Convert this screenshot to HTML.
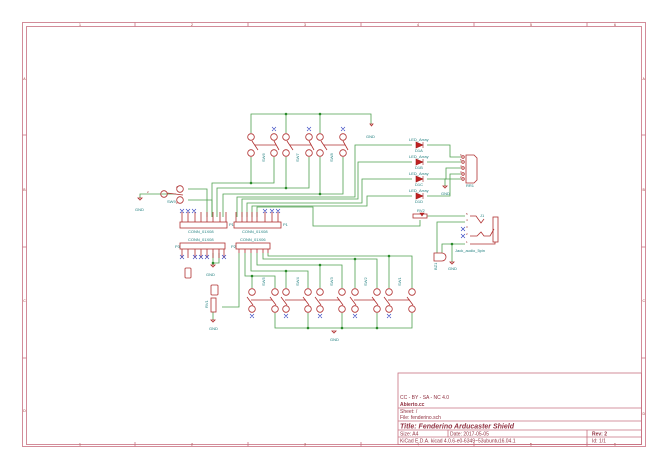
<!DOCTYPE html>
<html><head><meta charset="utf-8"><style>
html,body{margin:0;padding:0;background:#fff}
svg{display:block}
.w{stroke:#4fa04f;stroke-width:.8;fill:none}
.c{stroke:#b03030;stroke-width:.8;fill:none}
.f{stroke:#c87080;stroke-width:.8;fill:none}
.t{font-family:"Liberation Sans",sans-serif;fill:#207f7f;font-size:4px}
.r{font-family:"Liberation Sans",sans-serif;fill:#a03030;font-size:4px}
.x{stroke:#3040c0;stroke-width:.6}
.tb{font-family:"Liberation Sans",sans-serif;fill:#903040;font-size:5px}
</style></head><body>
<svg width="668" height="472" viewBox="0 0 668 472" xmlns="http://www.w3.org/2000/svg">
<!-- frame -->
<rect x="22.5" y="22.5" width="623" height="424" class="f"/>
<rect x="26.5" y="26.5" width="615" height="418" class="f"/>
<g class="f">
<line x1="135" y1="22.5" x2="135" y2="26.5"/><line x1="248" y1="22.5" x2="248" y2="26.5"/><line x1="361" y1="22.5" x2="361" y2="26.5"/><line x1="474" y1="22.5" x2="474" y2="26.5"/><line x1="587" y1="22.5" x2="587" y2="26.5"/>
<line x1="135" y1="442" x2="135" y2="446.5"/><line x1="248" y1="442" x2="248" y2="446.5"/><line x1="361" y1="442" x2="361" y2="446.5"/><line x1="474" y1="442" x2="474" y2="446.5"/><line x1="587" y1="442" x2="587" y2="446.5"/>
<line x1="22.5" y1="135" x2="26.5" y2="135"/><line x1="22.5" y1="247" x2="26.5" y2="247"/><line x1="22.5" y1="358" x2="26.5" y2="358"/>
<line x1="641.5" y1="135" x2="645.5" y2="135"/><line x1="641.5" y1="247" x2="645.5" y2="247"/><line x1="641.5" y1="358" x2="645.5" y2="358"/>
</g>
<g class="r" font-size="3.5" style="font-size:3.5px">
<text x="79" y="26">1</text><text x="191" y="26">2</text><text x="304" y="26">3</text><text x="417" y="26">4</text><text x="530" y="26">5</text><text x="614" y="26">6</text>
<text x="79" y="445.5">1</text><text x="191" y="445.5">2</text><text x="304" y="445.5">3</text><text x="417" y="445.5">4</text><text x="530" y="445.5">5</text><text x="614" y="445.5">6</text>
<text x="23.2" y="80">A</text><text x="23.2" y="191">B</text><text x="23.2" y="302">C</text><text x="23.2" y="412">D</text>
<text x="642.5" y="80">A</text><text x="642.5" y="191">B</text><text x="642.5" y="302">C</text><text x="642.5" y="415">D</text>
</g>
<!-- title block -->
<g class="f">
<rect x="398" y="373" width="243.5" height="71.5"/>
<line x1="398" y1="408" x2="641.5" y2="408"/>
<line x1="398" y1="421" x2="641.5" y2="421"/>
<line x1="398" y1="430" x2="641.5" y2="430"/>
<line x1="398" y1="437" x2="641.5" y2="437"/>
<line x1="587" y1="430" x2="587" y2="444.5"/>
<line x1="448" y1="430" x2="448" y2="437"/>
</g>
<g class="tb">
<text x="400" y="399">CC - BY - SA - NC 4.0</text>
<text x="400" y="406" font-weight="bold">Abierto.cc</text>
<text x="400" y="413">Sheet: /</text>
<text x="400" y="419">File: fenderino.sch</text>
<text x="400" y="428.5" font-weight="bold" font-style="italic" style="font-size:7px">Title: Fenderino Arducaster Shield</text>
<text x="400" y="435.5">Size: A4</text><text x="450" y="435.5">Date: 2017-05-05</text>
<text x="592" y="435.5" font-weight="bold">Rev: 2</text>
<text x="400" y="442.5">KiCad E.D.A.  kicad 4.0.6-e0-6349~53ubuntu16.04.1</text>
<text x="592" y="442.5">Id: 1/1</text>
</g>

<!-- top switches wiring -->
<g class="w">
<polyline points="251,133 251,114 371,114 371,124"/>
<line x1="286" y1="114" x2="286" y2="133"/><line x1="320" y1="114" x2="320" y2="133"/>
<polyline points="212,217 212,183 274,183 274,157"/><line x1="251" y1="157" x2="251" y2="183"/>
<polyline points="217,217 217,188 309,188 309,157"/><line x1="286" y1="157" x2="286" y2="188"/>
<polyline points="223,217 223,194 343,194 343,157"/><line x1="320" y1="157" x2="320" y2="194"/>
<!-- LEDs -->
<polyline points="412,145 355,145 355,197 237,197 237,217"/>
<polyline points="412,162 358,162 358,199 242,199 242,217"/>
<polyline points="412,179 362,179 362,203 247,203 247,217"/>
<polyline points="412,196 367,196 367,206 252,206 252,217"/>
<polyline points="427,145 450,145 450,157 461,157"/>
<polyline points="427,162 461,162"/>
<polyline points="427,179 446,179 446,168 461,168"/>
<polyline points="427,196 450,196 450,174 461,174"/>
<polyline points="461,179 445,179 445,186"/>
<!-- SW9 -->
<polyline points="207,217 207,189 188,189"/><polyline points="212,217 212,200 188,200"/>
<polyline points="176,194 152,194 140,194 140,198"/>
<!-- RV2 -->
<polyline points="257,217 257,207 313,207 313,226 420,226 420,220"/>
<line x1="427" y1="216" x2="465" y2="216"/>
<polyline points="465,222 437,222 437,253"/>
<polyline points="465,244 442,244 442,253"/><polyline points="452,244 452,262"/>
<!-- P3 -->
<polyline points="213,253 213,265"/><polyline points="219,253 219,263 213,263"/>
<!-- P2 bottom -->
<polyline points="239,253 239,307 222,307"/>
<polyline points="245,253 245,276 275,276 275,288"/><line x1="252" y1="276" x2="252" y2="288"/>
<polyline points="251,253 251,271 308,271 308,288"/><line x1="286" y1="271" x2="286" y2="288"/>
<polyline points="257,253 257,265 342,265 342,288"/><line x1="320" y1="265" x2="320" y2="288"/>
<polyline points="263,253 263,259 377,259 377,288"/><line x1="355" y1="259" x2="355" y2="288"/>
<polyline points="268,253 268,256 412,256 412,288"/><line x1="389" y1="256" x2="389" y2="288"/>
<polyline points="275,313 275,328 412,328 412,313"/>
<line x1="308" y1="313" x2="308" y2="328"/><line x1="342" y1="313" x2="342" y2="328"/><line x1="377" y1="313" x2="377" y2="328"/>
<polyline points="213,312 213,320"/>
</g>
<!-- junctions -->
<g fill="#2a8a2a">
<circle cx="286" cy="114" r="1.3"/><circle cx="320" cy="114" r="1.3"/>
<circle cx="251" cy="183" r="1.3"/><circle cx="286" cy="188" r="1.3"/><circle cx="320" cy="194" r="1.3"/>
<circle cx="452" cy="244" r="1.3"/><circle cx="213" cy="263" r="1.3"/>
<circle cx="252" cy="276" r="1.3"/><circle cx="286" cy="271" r="1.3"/><circle cx="320" cy="265" r="1.3"/><circle cx="355" cy="259" r="1.3"/><circle cx="389" cy="256" r="1.3"/>
<circle cx="308" cy="328" r="1.3"/><circle cx="342" cy="328" r="1.3"/><circle cx="377" cy="328" r="1.3"/>
</g>

<!-- switches -->
<g class="c">
<!-- top -->
<circle cx="251" cy="137" r="3.3"/><circle cx="274" cy="137" r="3.3"/><circle cx="251" cy="153" r="3.3"/><circle cx="274" cy="153" r="3.3"/>
<circle cx="286" cy="137" r="3.3"/><circle cx="309" cy="137" r="3.3"/><circle cx="286" cy="153" r="3.3"/><circle cx="309" cy="153" r="3.3"/>
<circle cx="320" cy="137" r="3.3"/><circle cx="343" cy="137" r="3.3"/><circle cx="320" cy="153" r="3.3"/><circle cx="343" cy="153" r="3.3"/>
<path d="M252,141 L258,150 M274,141 L279,150 M255,145 H276 M287,141 L293,150 M309,141 L314,150 M290,145 H311 M321,141 L327,150 M343,141 L348,150 M324,145 H345"/>
<!-- bottom -->
<circle cx="252" cy="292" r="3.3"/><circle cx="275" cy="292" r="3.3"/><circle cx="252" cy="309" r="3.3"/><circle cx="275" cy="309" r="3.3"/>
<circle cx="286" cy="292" r="3.3"/><circle cx="308" cy="292" r="3.3"/><circle cx="286" cy="309" r="3.3"/><circle cx="308" cy="309" r="3.3"/>
<circle cx="320" cy="292" r="3.3"/><circle cx="342" cy="292" r="3.3"/><circle cx="320" cy="309" r="3.3"/><circle cx="342" cy="309" r="3.3"/>
<circle cx="355" cy="292" r="3.3"/><circle cx="377" cy="292" r="3.3"/><circle cx="355" cy="309" r="3.3"/><circle cx="377" cy="309" r="3.3"/>
<circle cx="389" cy="292" r="3.3"/><circle cx="412" cy="292" r="3.3"/><circle cx="389" cy="309" r="3.3"/><circle cx="412" cy="309" r="3.3"/>
<path d="M247,297 L253,305 M270,297 L276,305 M251,300 H272 M281,297 L287,305 M303,297 L309,305 M285,300 H306 M315,297 L321,305 M337,297 L343,305 M319,300 H340 M350,297 L356,305 M372,297 L378,305 M354,300 H375 M384,297 L390,305 M407,297 L413,305 M388,300 H410"/>
<!-- SW9 -->
<circle cx="180" cy="189" r="3.3"/><circle cx="180" cy="200" r="3.3"/><circle cx="164" cy="194" r="3.3"/>
<line x1="167" y1="193" x2="183" y2="195"/>
<!-- connectors -->
<rect x="180" y="222" width="47" height="6"/><rect x="234" y="222" width="47" height="6"/>
<rect x="180" y="243" width="45" height="6"/><rect x="236" y="243" width="34" height="6"/>
<!-- RR1 -->
<path d="M466,155 H474 L477,158 V180 L474,183 H466 Z"/>
<circle cx="463" cy="157" r="1.3"/><circle cx="463" cy="162" r="1.3"/><circle cx="463" cy="168" r="1.3"/><circle cx="463" cy="174" r="1.3"/><circle cx="463" cy="179" r="1.3"/>
<!-- J1 -->
<rect x="493" y="217" width="5" height="25"/>
<path d="M470,216 H476 L481,223 L484,219 M470,236 H477 L481,232 L484,236 H490 L494,229 M470,244 H495 V242"/>
<!-- RV2, RV1, BZ1 -->
<rect x="413" y="214" width="14" height="4"/>
<rect x="211" y="298" width="5" height="14"/>
<rect x="211" y="285" width="7" height="10" rx="1"/>
<rect x="185" y="268" width="6" height="10" rx="1"/>
<path d="M434,253 h8 a4,4 0 0 1 0,8 h-8 z"/>
<path d="M370,124 h3 l-1.5,2 z M443,186 h4 l-2,2 z M138,198 h4 l-2,2 z M211,265 h4 l-2,2 z M211,320 h4 l-2,2 z M332,331 h4 l-2,2 z M450,262 h4 l-2,2 z"/>
</g>
<!-- connector pins -->
<g class="c">
<path d="M182,212V222 M188,212V222 M195,212V222 M201,212V222 M207,212V222 M213,212V222 M220,212V222 M226,212V222"/>
<path d="M236,212V222 M242,212V222 M247,212V222 M252,212V222 M257,212V222 M265,212V222 M272,212V222 M278,212V222"/>
<path d="M182,249V258 M188,249V258 M195,249V258 M201,249V258 M207,249V258 M213,249V258 M219,249V258 M224,249V258"/>
<path d="M239,249V253 M245,249V253 M251,249V253 M257,249V253 M263,249V253 M268,249V253"/>
</g>
<!-- LEDs -->
<g fill="#c02020" stroke="#a02020" stroke-width=".6">
<path d="M416,142 L423,145 L416,148 Z M423,142V148"/>
<path d="M416,159 L423,162 L416,165 Z M423,159V165"/>
<path d="M416,176 L423,179 L416,182 Z M423,176V182"/>
<path d="M416,193 L423,196 L416,199 Z M423,193V199"/>
<path d="M420,213 L424,213 L422,216 Z"/>
</g>
<!-- no-connect marks -->
<g class="x">
<path d="M272,127l4,4m0-4l-4,4 M307,127l4,4m0-4l-4,4 M341,127l4,4m0-4l-4,4"/>
<path d="M180,209l4,4m0-4l-4,4 M186,209l4,4m0-4l-4,4 M192,209l4,4m0-4l-4,4"/>
<path d="M263,209l4,4m0-4l-4,4 M270,209l4,4m0-4l-4,4 M276,209l4,4m0-4l-4,4"/>
<path d="M180,255l4,4m0-4l-4,4 M193,255l4,4m0-4l-4,4 M199,255l4,4m0-4l-4,4 M205,255l4,4m0-4l-4,4 M222,255l4,4m0-4l-4,4"/>
<path d="M250,314l4,4m0-4l-4,4 M284,314l4,4m0-4l-4,4 M318,314l4,4m0-4l-4,4 M353,314l4,4m0-4l-4,4 M387,314l4,4m0-4l-4,4"/>
<path d="M461,227l4,4m0-4l-4,4 M461,234l4,4m0-4l-4,4"/>
</g>
<!-- labels -->
<g class="t">
<text x="265" y="162" transform="rotate(-90 265 162)">SW6</text>
<text x="299" y="162" transform="rotate(-90 299 162)">SW7</text>
<text x="333" y="162" transform="rotate(-90 333 162)">SW8</text>
<text x="265" y="286" transform="rotate(-90 265 286)">SW5</text>
<text x="299" y="286" transform="rotate(-90 299 286)">SW4</text>
<text x="333" y="286" transform="rotate(-90 333 286)">SW3</text>
<text x="367" y="286" transform="rotate(-90 367 286)">SW2</text>
<text x="401" y="286" transform="rotate(-90 401 286)">SW1</text>
<text x="167" y="203">SW9</text>
<text x="366" y="138">GND</text><text x="441" y="195">GND</text><text x="135" y="211">GND</text>
<text x="206" y="276">GND</text><text x="209" y="330">GND</text><text x="330" y="341">GND</text><text x="448" y="270">GND</text>
<text x="188" y="233">CONN_01X08</text><text x="242" y="233">CONN_01X08</text>
<text x="188" y="241">CONN_01X08</text><text x="240" y="241">CONN_01X06</text>
<text x="409" y="141">LED_Array</text><text x="415" y="152">D1A</text>
<text x="409" y="158">LED_Array</text><text x="415" y="169">D1B</text>
<text x="409" y="175">LED_Array</text><text x="415" y="186">D1C</text>
<text x="409" y="192">LED_Array</text><text x="415" y="203">D1D</text>
<text x="466" y="187">RR1</text>
<text x="417" y="212">RV2</text>
<text x="480" y="217">J1</text>
<text x="455" y="252">Jack_audio_5pin</text>
<text x="283" y="226">P1</text><text x="229" y="226">P1</text>
<text x="175" y="248">P3</text><text x="231" y="248">P2</text>
<text x="437" y="270" transform="rotate(-90 437 270)">BZ1</text>
<text x="208" y="308" transform="rotate(-90 208 308)">RV1</text>
</g>
<g class="r" style="font-size:3px">
<text x="176" y="188">2</text><text x="176" y="204">1</text><text x="147" y="193">2</text>
<text x="460" y="156">6</text><text x="460" y="161">5</text><text x="460" y="167">4</text><text x="460" y="173">3</text><text x="460" y="178">2</text>
<text x="466" y="215">5</text><text x="466" y="221">4</text><text x="466" y="228">3</text><text x="466" y="235">2</text><text x="466" y="243">1</text>
</g>
</svg>
</body></html>
